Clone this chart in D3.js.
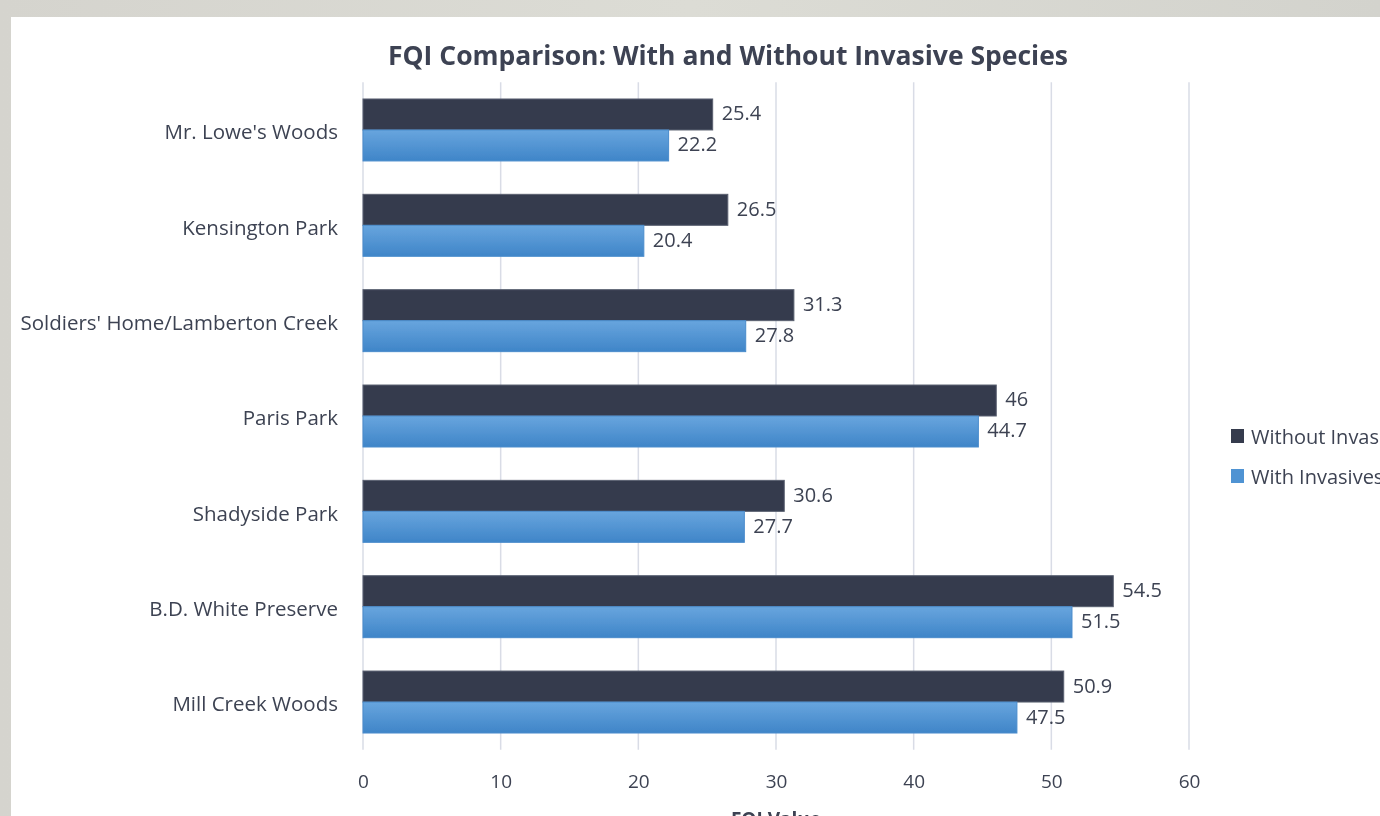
<!DOCTYPE html>
<html>
<head>
<meta charset="utf-8">
<script src="https://cdn.jsdelivr.net/npm/d3@7"></script>
<style>
  html, body { margin: 0; padding: 0; background: #d6d5cf; }
  svg { display: block; }
</style>
</head>
<body>
<svg id="chart" width="1380" height="816"></svg>
<script>
// Sites, top to bottom
const sites = [
  "Mr. Lowe's Woods",
  "Kensington Park",
  "Soldiers' Home/Lamberton Creek",
  "Paris Park",
  "Shadyside Park",
  "B.D. White Preserve",
  "Mill Creek Woods"
];
// FQI computed from native species only
const withoutInvasives = [25.4, 26.5, 31.3, 46, 30.6, 54.5, 50.9];
// FQI computed including invasive species
const withInvasives = [22.2, 20.4, 27.8, 44.7, 27.7, 51.5, 47.5];
const seriesNames = ["Without Invasives", "With Invasives"];
const xTicks = [0, 10, 20, 30, 40, 50, 60];

const svg = d3.select("#chart");
const font = "'Open Sans', 'Noto Sans', sans-serif";
const textColor = "#3d4352";

// slide backdrop and white panel
const defs = svg.append("defs");
const bgGrad = defs.append("linearGradient").attr("id", "bg").attr("x1", 0).attr("x2", 1);
bgGrad.append("stop").attr("offset", 0).attr("stop-color", "#d5d4ce");
bgGrad.append("stop").attr("offset", 0.5).attr("stop-color", "#dcdcd5");
bgGrad.append("stop").attr("offset", 1).attr("stop-color", "#d3d3cd");
svg.append("rect").attr("width", 1380).attr("height", 816).attr("fill", "url(#bg)");
svg.append("rect").attr("x", 11).attr("y", 17).attr("width", 1369).attr("height", 799).attr("fill", "#ffffff");

const lightGrad = defs.append("linearGradient").attr("id", "lightBar").attr("x1", 0).attr("x2", 0).attr("y1", 0).attr("y2", 1);
lightGrad.append("stop").attr("offset", 0).attr("stop-color", "#68a5de");
lightGrad.append("stop").attr("offset", 1).attr("stop-color", "#3f85c8");

const soft = defs.append("filter").attr("id", "soft");
soft.append("feGaussianBlur").attr("stdDeviation", 0.5);

const plot = { left: 363, right: 1189, top: 82.3, bottom: 749.7 };

const x = d3.scaleLinear().domain([0, 60]).range([plot.left, plot.right]);
const y = d3.scaleBand().domain(sites).range([plot.top, plot.bottom]).paddingInner(0.35).paddingOuter(0.175);
const sub = d3.scaleBand().domain(seriesNames).range([0, y.bandwidth()]);
const colors = { "Without Invasives": "#343b4e", "With Invasives": "url(#lightBar)" };
const strokes = { "Without Invasives": "#5a6070", "With Invasives": "#4a8ccc" };
const legendColors = { "Without Invasives": "#343b4e", "With Invasives": "#4f93d3" };

const g = svg.append("g").attr("filter", "url(#soft)");

// vertical gridlines
g.append("g").selectAll("line").data(xTicks).join("line")
  .attr("x1", d => x(d)).attr("x2", d => x(d))
  .attr("y1", plot.top).attr("y2", plot.bottom)
  .attr("stroke", "#d9dce6").attr("stroke-width", 1.5);

// x axis tick labels
const xAxis = d3.axisBottom(x).tickValues(xTicks).tickSize(0).tickPadding(0);
const ax = g.append("g").attr("transform", `translate(0, ${plot.bottom + 25})`).call(xAxis);
ax.select(".domain").remove();
ax.selectAll("text").attr("font-family", font).attr("font-size", 19).attr("fill", textColor);

// category labels
const yAxis = d3.axisLeft(y).tickSize(0).tickPadding(25);
const ay = g.append("g").attr("transform", `translate(${plot.left}, 0)`).call(yAxis);
ay.select(".domain").remove();
ay.selectAll("text").attr("font-family", font).attr("font-size", 20.5).attr("fill", textColor)
  .attr("dy", "0.46em");

// bars
const rows = sites.map((s, i) => ({ site: s, values: [
  { key: seriesNames[0], v: withoutInvasives[i] },
  { key: seriesNames[1], v: withInvasives[i] }
]}));

const groups = g.append("g").selectAll("g").data(rows).join("g")
  .attr("transform", d => `translate(0, ${y(d.site)})`);

groups.selectAll("rect").data(d => d.values).join("rect")
  .attr("x", x(0))
  .attr("y", d => sub(d.key))
  .attr("width", d => x(d.v) - x(0))
  .attr("height", sub.bandwidth())
  .attr("fill", d => colors[d.key])
  .attr("stroke", d => strokes[d.key])
  .attr("stroke-width", 1);

groups.selectAll("text").data(d => d.values).join("text")
  .attr("x", d => x(d.v) + 9)
  .attr("y", d => sub(d.key) + sub.bandwidth() / 2)
  .attr("dy", "0.3em")
  .attr("font-family", font).attr("font-size", 20).attr("fill", textColor)
  .text(d => d.v);

// chart title
g.append("text").attr("x", 728).attr("y", 65).attr("text-anchor", "middle")
  .attr("font-family", font).attr("font-weight", "bold").attr("font-size", 26.5)
  .attr("fill", textColor).text("FQI Comparison: With and Without Invasive Species");

// axis title
g.append("text").attr("x", (plot.left + plot.right) / 2).attr("y", 826).attr("text-anchor", "middle")
  .attr("font-family", font).attr("font-weight", "bold").attr("font-size", 19)
  .attr("fill", textColor).text("FQI Value");

// legend
const legend = g.append("g").selectAll("g").data(seriesNames).join("g")
  .attr("transform", (d, i) => `translate(1231, ${429 + i * 40})`);
legend.append("rect").attr("width", 13).attr("height", 14).attr("fill", d => legendColors[d]);
legend.append("text").attr("x", 20).attr("y", 7).attr("dy", "0.42em")
  .attr("font-family", font).attr("font-size", 20).attr("fill", textColor).text(d => d);
</script>
</body>
</html>
